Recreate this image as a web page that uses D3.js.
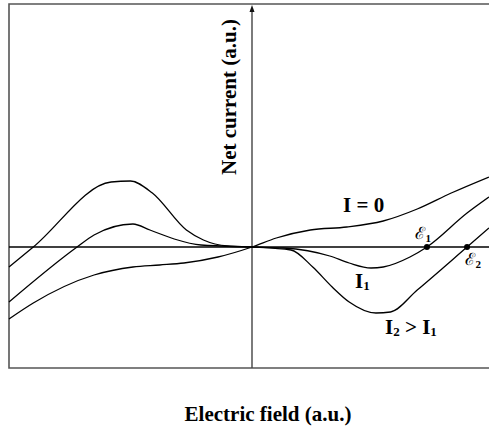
<!DOCTYPE html>
<html>
<head>
<meta charset="utf-8">
<script src="https://cdn.jsdelivr.net/npm/d3@7"></script>
<style>
body { margin: 0; background: #fff; }
text { font-family: "Liberation Serif", "Times New Roman", serif; font-weight: bold; }
</style>
</head>
<body>
<script>
var w = 489;
var h = 430;

// net current (a.u.) vs electric field (a.u.), origin at 0
var i0Field = [-1, -0.9, -0.65, -0.49, -0.38, -0.28, -0.14, 0, 0.1, 0.24, 0.39, 0.54, 0.68, 0.82, 0.975];
var i0Current = [-0.72, -0.56, -0.28, -0.2, -0.18, -0.16, -0.1, 0, 0.09, 0.17, 0.2, 0.26, 0.38, 0.54, 0.7];

var i1Field = [-1, -0.72, -0.65, -0.49, -0.42, -0.32, -0.21, 0, 0.13, 0.32, 0.4, 0.49, 0.54, 0.65, 0.72, 0.885, 0.975];
var i1Current = [-0.55, 0, 0.12, 0.23, 0.17, 0.08, 0.02, 0, -0.01, -0.09, -0.16, -0.21, -0.2, -0.1, 0, 0.34, 0.5];

var i2Field = [-1, -0.9, -0.58, -0.5, -0.41, -0.27, -0.2, -0.1, 0, 0.16, 0.25, 0.33, 0.4, 0.51, 0.57, 0.68, 0.885, 0.975];
var i2Current = [-0.2, 0, 0.65, 0.66, 0.54, 0.17, 0.07, 0.01, 0, -0.03, -0.2, -0.4, -0.55, -0.66, -0.65, -0.43, 0, 0.19];

var eps = [0.72, 0.885];
var epsLabels = ["1", "2"];

var xScale = d3.scaleLinear().domain([-1, 1]).range([9, 495]);
var yScale = d3.scaleLinear().domain([-1.21, 2.43]).range([368, 4]);

var svg = d3.select("body").append("svg")
    .attr("width", w)
    .attr("height", h);

// frame
svg.append("path")
    .attr("d", "M" + (xScale(1) + 5) + "," + yScale(2.43) + " H" + xScale(-1) + " V" + yScale(-1.21) + " H" + (xScale(1) + 5))
    .attr("fill", "none")
    .attr("stroke", "#555")
    .attr("stroke-width", 1.6);

// axes
svg.append("line")
    .attr("x1", xScale(-1)).attr("x2", w)
    .attr("y1", yScale(0)).attr("y2", yScale(0))
    .attr("stroke", "#000").attr("stroke-width", 1.4);
svg.append("line")
    .attr("x1", xScale(0)).attr("x2", xScale(0))
    .attr("y1", yScale(-1.21)).attr("y2", yScale(2.36))
    .attr("stroke", "#444").attr("stroke-width", 1.4);
// arrow head
var ax = xScale(0), ay = yScale(2.42);
svg.append("path")
    .attr("d", "M" + ax + "," + ay + " L" + (ax - 2.5) + "," + (ay + 7) + " L" + (ax + 2.5) + "," + (ay + 7) + " Z")
    .attr("fill", "#111");

var line = d3.line()
    .x(function(d) { return xScale(d[0]); })
    .y(function(d) { return yScale(d[1]); })
    .curve(d3.curveMonotoneX);

var curves = [
    d3.zip(i0Field, i0Current),
    d3.zip(i1Field, i1Current),
    d3.zip(i2Field, i2Current)
];

svg.selectAll("path.curve")
    .data(curves)
    .enter()
    .append("path")
    .attr("class", "curve")
    .attr("d", line)
    .attr("fill", "none")
    .attr("stroke", "#000")
    .attr("stroke-width", 1.3);

svg.selectAll("circle")
    .data(eps)
    .enter()
    .append("circle")
    .attr("cx", function(d) { return xScale(d); })
    .attr("cy", yScale(0))
    .attr("r", 3)
    .attr("fill", "#000");

// curve labels
var lab = svg.append("g").attr("font-size", 21);
lab.append("text").attr("x", 343).attr("y", 212).text("I = 0");
var t1 = lab.append("text").attr("x", 355).attr("y", 288);
t1.append("tspan").text("I");
t1.append("tspan").attr("font-size", 13).attr("dy", 2).text("1");
var t2 = lab.append("text").attr("x", 385).attr("y", 334);
t2.append("tspan").text("I");
t2.append("tspan").attr("font-size", 13).attr("dy", 2).text("2");
t2.append("tspan").attr("dy", -2).text(" > I");
t2.append("tspan").attr("font-size", 13).attr("dy", 2).text("1");

svg.selectAll("text.eps")
    .data(eps)
    .enter()
    .append("text")
    .attr("class", "eps")
    .attr("x", function(d, i) { return i == 0 ? xScale(d) - 12 : xScale(d) - 2; })
    .attr("y", function(d, i) { return i == 0 ? yScale(0) - 8 : yScale(0) + 18; })
    .each(function(d, i) {
        var s = d3.select(this);
        s.append("tspan")
            .attr("font-family", "'DejaVu Serif', serif")
            .attr("font-weight", "normal")
            .attr("font-size", 17)
            .text("\u2130");
        s.append("tspan").attr("font-size", 11).attr("dx", 0.5).attr("dy", 3).text(epsLabels[i]);
    });

// axis titles
svg.append("text")
    .attr("x", 268).attr("y", 421)
    .attr("text-anchor", "middle")
    .attr("font-size", 21)
    .text("Electric field (a.u.)");

svg.append("text")
    .attr("transform", "translate(236,97) rotate(-90)")
    .attr("text-anchor", "middle")
    .attr("font-size", 21)
    .text("Net current (a.u.)");
</script>
</body>
</html>
